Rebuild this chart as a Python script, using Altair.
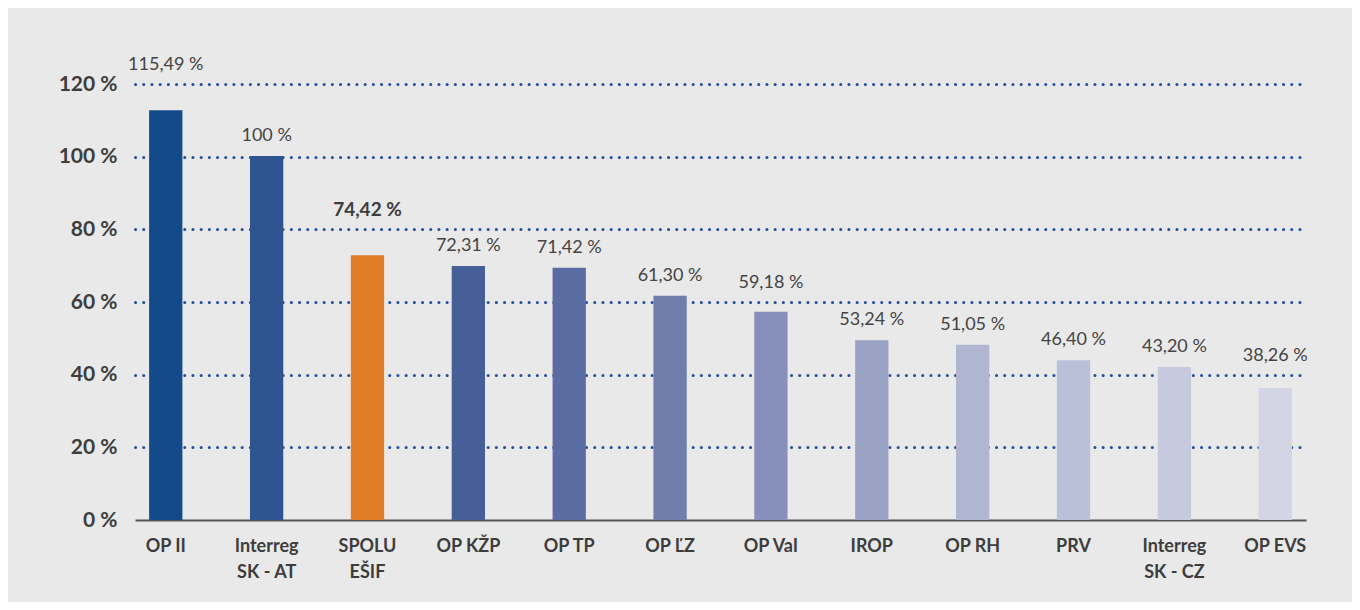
import altair as alt
import pandas as pd

categories = ["OP II", "Interreg|SK - AT", "SPOLU|EŠIF", "OP KŽP", "OP TP", "OP ĽZ",
              "OP VaI", "IROP", "OP RH", "PRV", "Interreg|SK - CZ", "OP EVS"]
bar_values = [112.8, 100.2, 72.9, 69.9, 69.4, 61.7, 57.3, 49.5, 48.2, 44.0, 42.1, 36.3]
value_labels = ["115,49 %", "100 %", "74,42 %", "72,31 %", "71,42 %", "61,30 %",
                "59,18 %", "53,24 %", "51,05 %", "46,40 %", "43,20 %", "38,26 %"]
colors = ["#134a8a", "#2f5590", "#e07d26", "#465f98", "#5b6ca2", "#717dab",
          "#8690ba", "#9aa3c4", "#b0b6d0", "#bbc0d9", "#c7cadf", "#d3d5e4"]
highlight = [False, False, True, False, False, False, False, False, False, False, False, False]
y_ticks = [0, 20, 40, 60, 80, 100, 120]

df = pd.DataFrame({"cat": categories, "val": bar_values, "lab": value_labels, "hl": highlight})

FONT = "Lato"

x = alt.X("cat:N", sort=categories, title=None,
          scale=alt.Scale(paddingInner=0.67, paddingOuter=0.14),
          axis=alt.Axis(labelAngle=0, labelExpr="split(datum.label, '|')",
                        labelFont=FONT, labelFontSize=18, labelFontWeight="bold",
                        labelColor="#3d3d3d", labelLineHeight=26, labelPadding=17,
                        labelBaseline="top",
                        domain=True, domainColor="#555555", domainWidth=2,
                        ticks=False, grid=False))
y = alt.Y("val:Q", title=None,
          scale=alt.Scale(domain=[0, 120], nice=False),
          axis=alt.Axis(values=y_ticks, labelExpr="datum.value + ' %'",
                        labelFont=FONT, labelFontSize=21, labelFontWeight="bold",
                        labelColor="#3d3d3d", labelPadding=18,
                        domain=False, ticks=False,
                        grid=True, gridColor="#2450a0", gridWidth=3,
                        gridOpacity={"condition": {"test": "datum.value === 0", "value": 0}, "value": 1},
                        gridDash=[0.1, 8.1], gridCap="round"))

bars = alt.Chart(df).mark_bar().encode(
    x=x, y=y,
    color=alt.Color("cat:N", sort=categories,
                    scale=alt.Scale(domain=categories, range=colors), legend=None),
)

# label position: above the bar, lifted clear of a gridline when it would sit on one
txt_base = alt.Chart(df).transform_calculate(
    lc="datum.val + 5.5",
).transform_calculate(
    g="round(datum.lc / 20) * 20",
).transform_calculate(
    ly="abs(datum.lc - datum.g) < 3.5 ? datum.g + 5.2 : datum.lc",
).encode(x=alt.X("cat:N", sort=categories),
         y=alt.Y("ly:Q", scale=alt.Scale(domain=[0, 120], nice=False)),
         text="lab:N")
txt_norm = txt_base.transform_filter("!datum.hl").mark_text(
    font=FONT, fontSize=18, color="#444444", baseline="middle")
txt_bold = txt_base.transform_filter("datum.hl").mark_text(
    font=FONT, fontSize=19, fontWeight="bold", color="#3d3d3d", baseline="middle")

chart = alt.layer(bars, txt_norm, txt_bold).properties(
    width=1171, height=436,
    autosize=alt.AutoSizeParams(type="none"),
    padding={"left": 127, "top": 76, "right": 46, "bottom": 82},
    background="#e9e9e9",
).configure_view(stroke=None)

chart.save("out.html", embed_options={"renderer": "svg", "actions": False})
